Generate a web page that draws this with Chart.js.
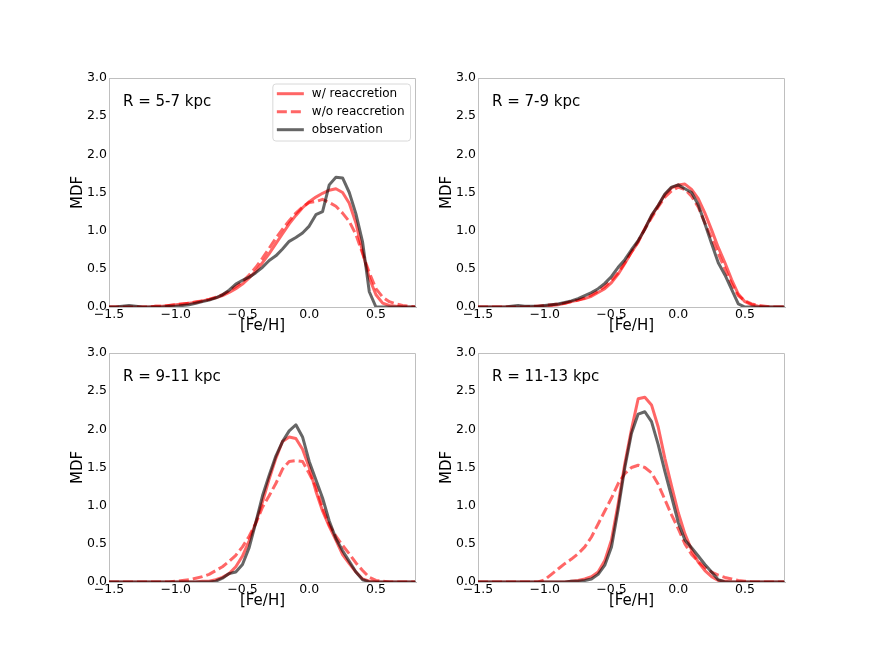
<!DOCTYPE html>
<html>
<head>
<meta charset="utf-8">
<script src="https://cdn.jsdelivr.net/npm/chart.js@4.4.0/dist/chart.umd.min.js"></script>
<style>
html,body{margin:0;padding:0;background:#fff;width:872px;height:654px;overflow:hidden;position:relative;}
canvas{position:absolute;}
</style>
</head>
<body>
<canvas id="c0"></canvas>
<canvas id="c1"></canvas>
<canvas id="c2"></canvas>
<canvas id="c3"></canvas>
<script>
// ---------------- DATA ----------------
const FEH = [-1.50,-1.45,-1.40,-1.35,-1.30,-1.25,-1.20,-1.15,-1.10,-1.05,-1.00,-0.95,-0.90,-0.85,-0.80,-0.75,-0.70,-0.65,-0.60,-0.55,-0.50,-0.45,-0.40,-0.35,-0.30,-0.25,-0.20,-0.15,-0.10,-0.05,0.00,0.05,0.10,0.15,0.20,0.25,0.30,0.35,0.40,0.45,0.50,0.55,0.60,0.65,0.70,0.75,0.80];

const xTicks = [-1.5, -1.0, -0.5, 0.0, 0.5];
const yTicks = [0.0, 0.5, 1.0, 1.5, 2.0, 2.5, 3.0];
const panelLabels = ['R = 5-7 kpc', 'R = 7-9 kpc', 'R = 9-11 kpc', 'R = 11-13 kpc'];
const seriesNames = ['w/ reaccretion', 'w/o reaccretion', 'observation'];

// R = 5-7 kpc
const withReacc_5_7 = [0,0,0,0,0,0,0,0.01,0.01,0.02,0.03,0.04,0.05,0.06,0.08,0.10,0.12,0.15,0.19,0.24,0.30,0.38,0.47,0.58,0.70,0.83,0.96,1.09,1.20,1.30,1.38,1.44,1.49,1.53,1.55,1.50,1.36,1.10,0.72,0.38,0.16,0.05,0.02,0.01,0,0,0];
const withoutReacc_5_7 = [0,0,0,0,0,0,0,0.01,0.01,0.02,0.03,0.04,0.05,0.07,0.08,0.10,0.13,0.16,0.21,0.27,0.33,0.42,0.52,0.64,0.77,0.90,1.02,1.13,1.23,1.31,1.37,1.38,1.41,1.37,1.32,1.23,1.12,0.95,0.70,0.45,0.24,0.13,0.07,0.04,0.02,0.01,0];
const observation_5_7 = [0,0,0.01,0.02,0.01,0,0,0,0,0.01,0.01,0.02,0.03,0.05,0.07,0.09,0.12,0.16,0.22,0.30,0.35,0.39,0.45,0.52,0.61,0.67,0.76,0.86,0.91,0.97,1.06,1.21,1.25,1.60,1.70,1.69,1.50,1.22,0.85,0.20,0,0,0,0,0,0,0];

// R = 7-9 kpc
const withReacc_7_9 = [0,0,0,0,0,0,0,0,0,0.01,0.01,0.02,0.03,0.05,0.07,0.09,0.11,0.14,0.19,0.24,0.32,0.43,0.57,0.72,0.85,1.03,1.19,1.33,1.47,1.56,1.60,1.61,1.54,1.42,1.23,1.01,0.78,0.58,0.36,0.17,0.07,0.03,0.01,0,0,0,0];
const withoutReacc_7_9 = [0,0,0,0,0,0,0,0,0.01,0.01,0.02,0.03,0.04,0.05,0.07,0.09,0.12,0.16,0.21,0.27,0.35,0.45,0.58,0.72,0.86,1.02,1.17,1.31,1.44,1.52,1.57,1.54,1.45,1.31,1.10,0.90,0.70,0.50,0.30,0.15,0.08,0.04,0.02,0.01,0,0,0];
const observation_7_9 = [0,0,0,0,0,0.01,0.02,0.01,0.01,0.01,0.02,0.03,0.04,0.06,0.08,0.11,0.15,0.19,0.24,0.31,0.40,0.52,0.62,0.75,0.87,1.02,1.20,1.33,1.48,1.57,1.60,1.55,1.50,1.34,1.09,0.83,0.58,0.42,0.23,0.04,0,0,0,0,0,0,0];

// R = 9-11 kpc
const withReacc_9_11 = [0,0,0,0,0,0,0,0,0,0,0,0,0,0,0.01,0.01,0.03,0.06,0.11,0.20,0.34,0.54,0.78,1.05,1.35,1.62,1.84,1.90,1.88,1.74,1.50,1.19,0.93,0.73,0.55,0.36,0.24,0.13,0.04,0.01,0,0,0,0,0,0,0];
const withoutReacc_9_11 = [0,0,0,0,0,0,0,0,0,0,0.01,0.02,0.03,0.05,0.07,0.10,0.15,0.20,0.27,0.35,0.46,0.60,0.77,0.98,1.13,1.29,1.48,1.58,1.59,1.58,1.42,1.25,0.97,0.75,0.60,0.48,0.37,0.25,0.15,0.06,0.02,0.01,0,0,0,0,0];
const observation_9_11 = [0,0,0,0,0,0,0,0,0,0,0,0,0,0,0,0,0.01,0.05,0.11,0.13,0.23,0.45,0.78,1.13,1.40,1.65,1.84,1.98,2.06,1.90,1.58,1.34,1.10,0.80,0.57,0.41,0.27,0.13,0.03,0,0,0,0,0,0,0,0];

// R = 11-13 kpc
const withReacc_11_13 = [0,0,0,0,0,0,0,0,0,0,0,0,0,0,0.01,0.02,0.04,0.07,0.13,0.28,0.55,1.02,1.55,2.00,2.40,2.42,2.32,2.03,1.62,1.26,0.91,0.63,0.42,0.26,0.15,0.07,0.02,0.01,0,0,0,0,0,0,0,0,0];
const withoutReacc_11_13 = [0,0,0,0,0,0,0,0,0,0,0.03,0.10,0.17,0.24,0.30,0.37,0.46,0.59,0.76,0.93,1.10,1.29,1.42,1.50,1.53,1.50,1.43,1.28,1.08,0.88,0.70,0.50,0.36,0.27,0.19,0.13,0.09,0.06,0.04,0.02,0.01,0,0,0,0,0,0];
const observation_11_13 = [0,0,0,0,0,0,0,0,0,0,0,0,0,0,0.01,0.01,0.02,0.04,0.10,0.22,0.46,0.95,1.50,1.95,2.20,2.23,2.10,1.80,1.45,1.12,0.78,0.55,0.45,0.34,0.23,0.13,0.03,0,0,0,0,0,0,0,0,0,0];

const panelSeries = [
  [withReacc_5_7, withoutReacc_5_7, observation_5_7],
  [withReacc_7_9, withoutReacc_7_9, observation_7_9],
  [withReacc_9_11, withoutReacc_9_11, observation_9_11],
  [withReacc_11_13, withoutReacc_11_13, observation_11_13]
];

// ---------------- STYLE / LAYOUT ----------------
const FONT = '"DejaVu Sans", "Liberation Sans", sans-serif';
const RED = 'rgba(255,0,0,0.6)';
const GRAY = 'rgba(0,0,0,0.6)';
const SPINE = '#bfbfbf';
const seriesStyle = [
  {color: RED, dash: [], order: 3},
  {color: RED, dash: [10, 4], order: 2},
  {color: GRAY, dash: [], order: 1}
];
const PANEL_LEFT = [109, 478, 109, 478];
const PANEL_TOP = [78, 78, 353, 353];
const PW = 307, PH = 229;
const YAXIS_W = 40, XAXIS_H = 28, PAD_TOP = 10, PAD_RIGHT = 14;

function fmt(v) {
  const s = Math.abs(v).toFixed(1);
  return v < 0 ? '\u2212' + s : s;
}

const framePlugin = {
  id: 'frame',
  afterDraw(chart) {
    const {ctx, chartArea: a} = chart;
    ctx.save();
    ctx.strokeStyle = SPINE;
    ctx.lineWidth = 1;
    ctx.beginPath();
    ctx.moveTo(Math.round(a.left) + 0.5, Math.round(a.top) + 0.5);
    ctx.lineTo(Math.round(a.right) - 0.5, Math.round(a.top) + 0.5);
    ctx.lineTo(Math.round(a.right) - 0.5, Math.round(a.bottom) - 0.5);
    ctx.stroke();
    ctx.restore();
  }
};

const panelLabelPlugin = {
  id: 'panelLabel',
  afterDraw(chart, args, opts) {
    const {ctx, chartArea: a} = chart;
    ctx.save();
    ctx.font = '15px ' + FONT;
    ctx.fillStyle = '#000';
    ctx.textBaseline = 'alphabetic';
    ctx.textAlign = 'left';
    ctx.fillText(opts.text, a.left + 14, a.top + 27.5);
    ctx.restore();
  }
};

const legendPlugin = {
  id: 'boxLegend',
  afterDraw(chart, args, opts) {
    if (!opts.show) return;
    const {ctx, chartArea: a} = chart;
    const items = chart.data.datasets.map(d => ({text: d.label, color: d.borderColor, dash: d.borderDash || []}));
    ctx.save();
    ctx.font = '12px ' + FONT;
    const tw = Math.max(...items.map(it => ctx.measureText(it.text).width));
    const padL = 4, lineLen = 27, gap = 8, padR = 6, rowH = 18;
    const w = padL + lineLen + gap + tw + padR, h = 57;
    const x = a.right - 5.5 - w, y = a.top + 6;
    const r = 3;
    ctx.beginPath();
    ctx.moveTo(x + r, y);
    ctx.lineTo(x + w - r, y); ctx.quadraticCurveTo(x + w, y, x + w, y + r);
    ctx.lineTo(x + w, y + h - r); ctx.quadraticCurveTo(x + w, y + h, x + w - r, y + h);
    ctx.lineTo(x + r, y + h); ctx.quadraticCurveTo(x, y + h, x, y + h - r);
    ctx.lineTo(x, y + r); ctx.quadraticCurveTo(x, y, x + r, y);
    ctx.closePath();
    ctx.fillStyle = 'rgba(255,255,255,0.8)';
    ctx.fill();
    ctx.strokeStyle = '#d8d8d8';
    ctx.lineWidth = 1;
    ctx.stroke();
    items.forEach((it, k) => {
      const cy = y + 9.7 + k * rowH;
      ctx.beginPath();
      ctx.setLineDash(it.dash);
      ctx.strokeStyle = it.color;
      ctx.lineWidth = 3;
      ctx.moveTo(x + padL, cy);
      ctx.lineTo(x + padL + lineLen, cy);
      ctx.stroke();
      ctx.setLineDash([]);
      ctx.fillStyle = '#000';
      ctx.textBaseline = 'middle';
      ctx.textAlign = 'left';
      ctx.fillText(it.text, x + padL + lineLen + gap, cy);
    });
    ctx.restore();
  }
};

for (let p = 0; p < 4; p++) {
  const cv = document.getElementById('c' + p);
  const cw = YAXIS_W + PW + PAD_RIGHT;
  const ch = PAD_TOP + PH + XAXIS_H;
  cv.width = cw; cv.height = ch;
  cv.style.width = cw + 'px'; cv.style.height = ch + 'px';
  cv.style.left = (PANEL_LEFT[p] - YAXIS_W) + 'px';
  cv.style.top = (PANEL_TOP[p] - PAD_TOP) + 'px';

  const datasets = panelSeries[p].map((vals, s) => ({
    label: seriesNames[s],
    data: FEH.map((x, i) => ({x: x, y: vals[i]})),
    borderColor: seriesStyle[s].color,
    backgroundColor: seriesStyle[s].color,
    borderDash: seriesStyle[s].dash,
    borderWidth: 3,
    pointRadius: 0,
    tension: 0,
    fill: false,
    order: seriesStyle[s].order,
    borderCapStyle: 'butt',
    borderJoinStyle: 'round'
  }));

  new Chart(cv, {
    type: 'line',
    data: {datasets},
    options: {
      responsive: false,
      animation: false,
      devicePixelRatio: 1,
      layout: {padding: {top: PAD_TOP, right: PAD_RIGHT, left: 0, bottom: 0}},
      plugins: {
        legend: {display: false},
        tooltip: {enabled: false},
        panelLabel: {text: panelLabels[p]},
        boxLegend: {show: p === 0}
      },
      scales: {
        x: {
          type: 'linear',
          min: -1.5, max: 0.8,
          afterBuildTicks: s => { s.ticks = xTicks.map(v => ({value: v})); },
          afterFit: s => { s.height = XAXIS_H; },
          grid: {display: false, drawTicks: false},
          border: {display: true, color: SPINE, width: 1},
          ticks: {padding: 0, color: '#000', maxRotation: 0, autoSkip: false,
                  font: {family: FONT, size: 12.5}, callback: v => fmt(v)},
          title: {display: true, text: '[Fe/H]', color: '#000', padding: 0,
                  font: {family: FONT, size: 15}}
        },
        y: {
          type: 'linear',
          min: 0, max: 3,
          afterBuildTicks: s => { s.ticks = yTicks.map(v => ({value: v})); },
          afterFit: s => { s.width = YAXIS_W; },
          grid: {display: false, drawTicks: false},
          border: {display: true, color: SPINE, width: 1},
          ticks: {padding: 2, color: '#000', autoSkip: false,
                  font: {family: FONT, size: 12.5}, callback: v => fmt(v)},
          title: {display: true, text: 'MDF', color: '#000', padding: 0,
                  font: {family: FONT, size: 15}}
        }
      }
    },
    plugins: [framePlugin, panelLabelPlugin, legendPlugin]
  });
}
</script>
</body>
</html>
